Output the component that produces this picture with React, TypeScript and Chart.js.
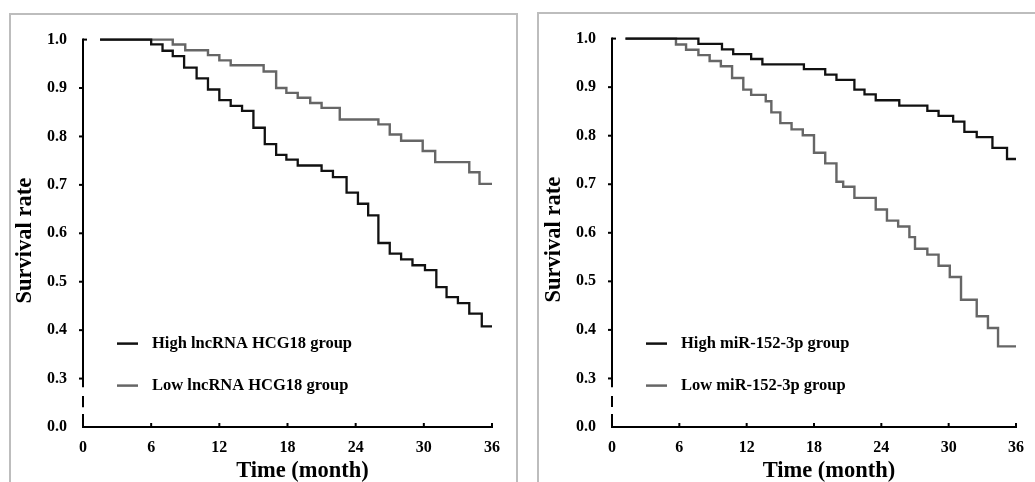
import React, { useEffect, useRef } from "react";
import { Chart, registerables } from "chart.js";

Chart.register(...registerables);

const FONT = '"Liberation Serif", "Times New Roman", Times, serif';

// ---- Data (months, survival) ----
const xTicksMonths = [0, 6, 12, 18, 24, 30, 36];
const yTickValues = [0.3, 0.4, 0.5, 0.6, 0.7, 0.8, 0.9, 1.0];
const xTitle = "Time (month)";
const yTitle = "Survival rate";

const leftHighLabel = "High lncRNA HCG18 group";
const leftHighTimes = [1.5, 6, 7, 7.9, 8.9, 10, 11, 12, 13, 14, 15, 16, 17, 17.9, 18.9, 21, 22, 23.2, 24.2, 25.1, 26, 27, 28, 29, 30.1, 31.1, 32, 33, 34, 35.1, 36];
const leftHighSurv = [1.0, 0.99, 0.977, 0.966, 0.942, 0.92, 0.897, 0.875, 0.863, 0.853, 0.818, 0.784, 0.762, 0.752, 0.74, 0.729, 0.716, 0.684, 0.661, 0.637, 0.58, 0.558, 0.546, 0.534, 0.524, 0.489, 0.468, 0.456, 0.434, 0.408, 0.408];

const leftLowLabel = "Low lncRNA HCG18 group";
const leftLowTimes = [1.5, 7.9, 9, 11, 12, 13, 15.9, 17, 17.9, 18.9, 20, 21, 22.6, 26, 27, 28, 29.9, 31, 34, 34.9, 36];
const leftLowSurv = [1.0, 0.99, 0.978, 0.968, 0.957, 0.947, 0.934, 0.9, 0.89, 0.88, 0.869, 0.859, 0.835, 0.825, 0.804, 0.791, 0.77, 0.747, 0.726, 0.702, 0.702];

const rightHighLabel = "High miR-152-3p group";
const rightHighTimes = [1.2, 7.7, 9.8, 10.8, 12.4, 13.4, 17.1, 19.0, 20.0, 21.6, 22.5, 23.5, 25.6, 28.1, 29.1, 30.4, 31.4, 32.5, 33.9, 35.2, 36];
const rightHighSurv = [1.0, 0.989, 0.978, 0.968, 0.958, 0.947, 0.937, 0.926, 0.915, 0.895, 0.885, 0.873, 0.862, 0.851, 0.841, 0.829, 0.808, 0.797, 0.775, 0.752, 0.752];

const rightLowLabel = "Low miR-152-3p group";
const rightLowTimes = [1.2, 5.7, 6.6, 7.7, 8.7, 9.7, 10.7, 11.7, 12.4, 13.7, 14.2, 15.0, 16.0, 17.0, 18.0, 19.0, 20.0, 20.6, 21.6, 23.5, 24.5, 25.5, 26.5, 27.0, 28.1, 29.1, 30.1, 31.1, 32.5, 33.5, 34.4, 36];
const rightLowSurv = [1.0, 0.988, 0.977, 0.966, 0.954, 0.943, 0.919, 0.895, 0.884, 0.871, 0.848, 0.826, 0.813, 0.801, 0.765, 0.743, 0.705, 0.695, 0.672, 0.648, 0.625, 0.613, 0.591, 0.567, 0.555, 0.532, 0.509, 0.462, 0.428, 0.404, 0.366, 0.366];

const HIGH_COLOR = "#111111";
const LOW_COLOR = "#666666";

const zip = (t: number[], s: number[]) => t.map((x, i) => ({ x, y: s[i] }));

const kmAxesPlugin = {
  id: "kmAxes",
  afterDraw(chart: any) {
    const { ctx, chartArea: ca, scales } = chart;
    const xs = scales.x;
    const ys = scales.y;
    const opts = chart.options.plugins.kmAxes || {};
    ctx.save();
    ctx.strokeStyle = "#000";
    ctx.lineWidth = 2;
    ctx.lineCap = "butt";
    const seg = (x1: number, y1: number, x2: number, y2: number) => {
      ctx.beginPath();
      ctx.moveTo(x1, y1);
      ctx.lineTo(x2, y2);
      ctx.stroke();
    };
    const ax = ca.left;
    // broken y axis
    seg(ax, ys.getPixelForValue(1.0) - 1, ax, ys.getPixelForValue(0.282));
    seg(ax, ys.getPixelForValue(0.264), ax, ys.getPixelForValue(0.241));
    seg(ax, ys.getPixelForValue(0.227), ax, ca.bottom + 1);
    yTickValues.forEach((v) => {
      const py = ys.getPixelForValue(v);
      if (v >= 0.999) seg(ax, py, ax + 4, py);
      else seg(ax - 4, py, ax, py);
    });
    // x axis
    seg(ax - 1, ca.bottom, xs.getPixelForValue(36) + 1, ca.bottom);
    xTicksMonths.forEach((m) => {
      if (m === 0) return;
      const px = xs.getPixelForValue(m);
      seg(px, ca.bottom, px, ca.bottom - 4);
    });
    // axis titles
    ctx.fillStyle = "#000";
    ctx.font = `bold 22.5px ${FONT}`;
    ctx.textAlign = "center";
    ctx.textBaseline = "middle";
    ctx.fillText(xTitle, (ca.left + ca.right) / 2 + 15, ca.bottom + 44);
    ctx.save();
    ctx.translate(ca.left - 58, ca.top + 201);
    ctx.rotate(-Math.PI / 2);
    ctx.fillText(yTitle, 0, 0);
    ctx.restore();
    // legend
    const top = opts.legendTop ?? 304;
    const gap = opts.legendGap ?? 42;
    chart.data.datasets.forEach((d: any, i: number) => {
      const yy = ca.top + top + i * gap;
      ctx.strokeStyle = d.borderColor;
      ctx.lineWidth = 2.5;
      seg(ax + 34, yy, ax + 55, yy);
      ctx.fillStyle = "#000";
      ctx.font = `bold 16.5px ${FONT}`;
      ctx.textBaseline = "middle";
      ctx.textAlign = "left";
      ctx.fillText(d.label, ax + 69, yy);
    });
    ctx.restore();
  },
};

type PanelProps = {
  left: number;
  top: number;
  width: number;
  height: number;
  yWidth: number;
  xHeight: number;
  padTop: number;
  padRight: number;
  legendTop: number;
  highLabel: string;
  highTimes: number[];
  highSurv: number[];
  lowLabel: string;
  lowTimes: number[];
  lowSurv: number[];
};

function KMPanel(p: PanelProps) {
  const ref = useRef<HTMLCanvasElement | null>(null);
  useEffect(() => {
    if (!ref.current) return;
    const chart = new Chart(ref.current, {
      type: "line",
      data: {
        datasets: [
          {
            label: p.highLabel,
            data: zip(p.highTimes, p.highSurv),
            borderColor: HIGH_COLOR,
            borderWidth: 2.3,
            stepped: true,
            pointRadius: 0,
            fill: false,
            clip: false,
          } as any,
          {
            label: p.lowLabel,
            data: zip(p.lowTimes, p.lowSurv),
            borderColor: LOW_COLOR,
            borderWidth: 2.4,
            stepped: true,
            pointRadius: 0,
            fill: false,
            clip: false,
          } as any,
        ],
      },
      options: {
        animation: false,
        responsive: false,
        maintainAspectRatio: false,
        devicePixelRatio: 1,
        layout: { padding: { top: p.padTop, right: p.padRight, left: 0, bottom: 0 } },
        plugins: {
          legend: { display: false },
          tooltip: { enabled: false },
          kmAxes: { legendTop: p.legendTop, legendGap: 42 },
        } as any,
        scales: {
          x: {
            type: "linear",
            min: 0,
            max: 36,
            afterBuildTicks: (s: any) => {
              s.ticks = xTicksMonths.map((v) => ({ value: v }));
            },
            ticks: {
              padding: 11,
              color: "#000",
              maxRotation: 0,
              autoSkip: false,
              font: { family: FONT, size: 16, weight: "bold" },
            },
            grid: { display: false, drawTicks: false },
            border: { display: false },
            title: { display: false },
            afterFit: (s: any) => {
              s.height = p.xHeight;
            },
          },
          y: {
            type: "linear",
            min: 0.2,
            max: 1.0,
            afterBuildTicks: (s: any) => {
              s.ticks = [0.2, ...yTickValues].map((v) => ({ value: v }));
            },
            ticks: {
              padding: 16,
              color: "#000",
              autoSkip: false,
              font: { family: FONT, size: 16, weight: "bold" },
              callback: (v: any) => (Math.abs(Number(v) - 0.2) < 1e-6 ? "0.0" : Number(v).toFixed(1)),
            },
            grid: { display: false, drawTicks: false },
            border: { display: false },
            title: { display: false },
            afterFit: (s: any) => {
              s.width = p.yWidth;
            },
          },
        },
      } as any,
      plugins: [kmAxesPlugin],
    });
    return () => chart.destroy();
  }, []);
  return (
    <canvas
      ref={ref}
      width={p.width}
      height={p.height}
      style={{ position: "absolute", left: p.left, top: p.top, width: p.width, height: p.height }}
    />
  );
}

export default function App() {
  return (
    <div
      style={{
        position: "fixed",
        left: 0,
        top: 0,
        width: 1035,
        height: 482,
        overflow: "hidden",
        background: "#fff",
      }}
    >
      <div
        style={{
          position: "absolute",
          left: 9,
          top: 13,
          width: 509,
          height: 520,
          boxSizing: "border-box",
          border: "2px solid #bdbdbd",
        }}
      />
      <div
        style={{
          position: "absolute",
          left: 537,
          top: 12,
          width: 540,
          height: 520,
          boxSizing: "border-box",
          border: "2px solid #bdbdbd",
        }}
      />
      <KMPanel
        left={10}
        top={14}
        width={506}
        height={470}
        yWidth={73}
        xHeight={57}
        padTop={24}
        padRight={24}
        legendTop={304}
        highLabel={leftHighLabel}
        highTimes={leftHighTimes}
        highSurv={leftHighSurv}
        lowLabel={leftLowLabel}
        lowTimes={leftLowTimes}
        lowSurv={leftLowSurv}
      />
      <KMPanel
        left={539}
        top={13}
        width={496}
        height={470}
        yWidth={73}
        xHeight={56}
        padTop={24}
        padRight={13}
        legendTop={305}
        highLabel={rightHighLabel}
        highTimes={rightHighTimes}
        highSurv={rightHighSurv}
        lowLabel={rightLowLabel}
        lowTimes={rightLowTimes}
        lowSurv={rightLowSurv}
      />
    </div>
  );
}
